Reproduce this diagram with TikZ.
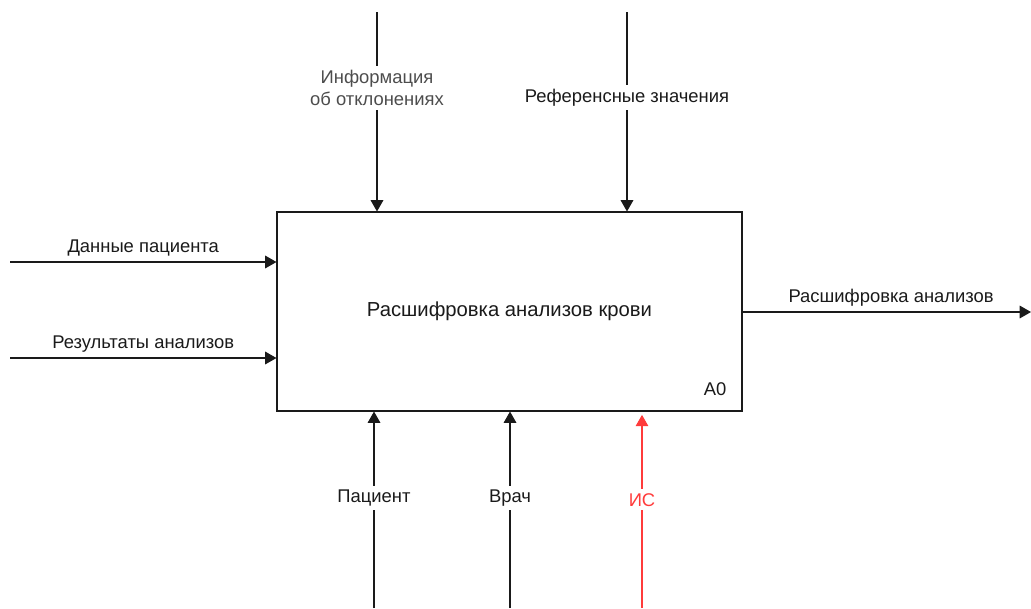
\documentclass[tikz,border=0pt]{standalone}
\usepackage{fontspec}
\setmainfont{Liberation Sans}
\usepackage{xcolor}
\usetikzlibrary{positioning, arrows.meta, calc}
\definecolor{idtext}{HTML}{1A1A1A}
\definecolor{idgrey}{HTML}{4D4D4D}
\definecolor{idred}{HTML}{FF3B3B}

\begin{document}
\begin{tikzpicture}[x=0.75pt, y=-0.75pt,
  funcbox/.style={rectangle, draw=idtext, fill=white, line width=0.8pt,
                  minimum width=348.75pt, minimum height=149.25pt, inner sep=0pt},
  arrowlabel/.style={font=\fontsize{13.8}{16.5}\selectfont, text=idtext,
                     inner sep=2pt, align=center},
  cutlabel/.style={arrowlabel, fill=white, inner sep=3pt},
  flowarrow/.style={-{Triangle[length=8.5pt, width=9.5pt]}, line width=0.8pt, draw=idtext}
]
\useasboundingbox (0,0) rectangle (1031,608);

% the activity box
\node[funcbox] (a0) at (509.5,311.5) {};
\node[arrowlabel, font=\fontsize{15.2}{18}\selectfont] (title) at (a0.center) {Расшифровка анализов крови};
\node[arrowlabel, anchor=base east] (num) at ([xshift=-10pt, yshift=12pt]a0.south east) {A0};

% controls
\coordinate (ctl1) at (377,12);
\coordinate (ctl2) at (627,12);
\draw[flowarrow] (ctl1) -- (ctl1 |- a0.north)
  node[cutlabel, pos=0.38, text=idgrey] (ctl1lbl) {Информация\\об отклонениях};
\draw[flowarrow] (ctl2) -- (ctl2 |- a0.north)
  node[cutlabel, pos=0.43] (ctl2lbl) {Референсные значения};

% inputs
\foreach \i/\y/\t in {1/262/{Данные пациента}, 2/358/{Результаты анализов}} {
  \coordinate (in\i) at (10,\y);
  \draw[flowarrow] (in\i) -- (in\i -| a0.west)
    node[arrowlabel, midway, above=2pt] (in\i lbl) {\t};
}

% output
\coordinate (out1) at (1031,312);
\draw[flowarrow] (a0.east |- out1) -- (out1)
  node[arrowlabel, pos=0.515, above=2pt] (out1lbl) {Расшифровка анализов};

% mechanisms
\foreach \i/\x/\t in {1/374/{Пациент}, 2/510/{Врач}} {
  \coordinate (mech\i) at (\x,608);
  \draw[flowarrow] (mech\i) -- (mech\i |- a0.south)
    node[cutlabel, pos=0.56] (mech\i lbl) {\t};
}
\coordinate (mech3) at (642,608);
\draw[flowarrow, draw=idred, shorten >=2.5pt] (mech3) -- (mech3 |- a0.south)
  node[cutlabel, pos=0.55, text=idred] (mech3lbl) {ИС};
\end{tikzpicture}
\end{document}
